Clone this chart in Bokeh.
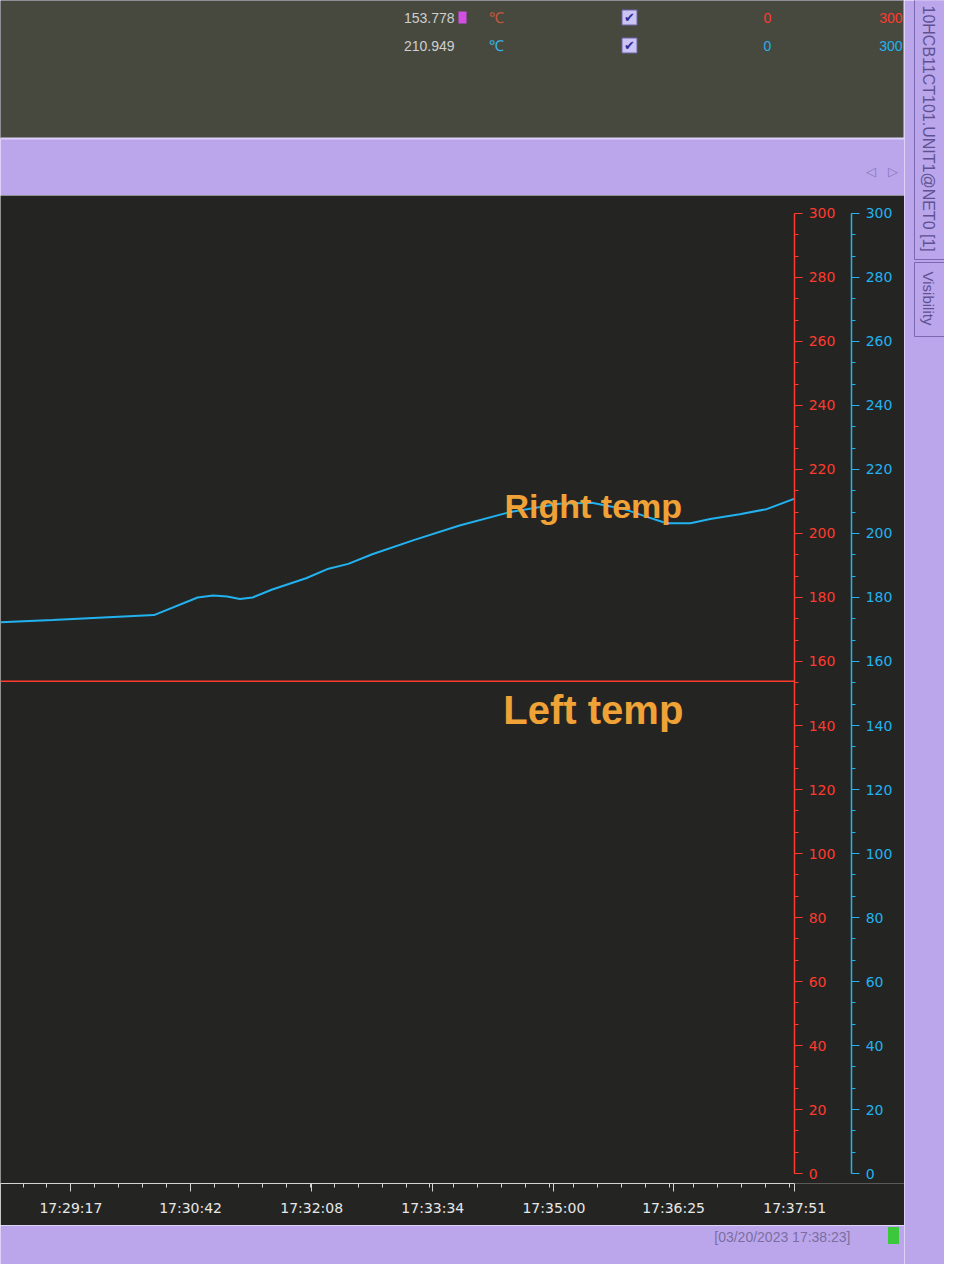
import pandas as pd
from bokeh.plotting import figure
from bokeh.models import Range1d, LinearAxis, FixedTicker, DatetimeTickFormatter, Label, ColumnDataSource
from bokeh.layouts import column, row
from bokeh.embed import file_html
from bokeh.resources import INLINE
from math import pi

day = "2023-03-20 "

# trend values
right_times = ["17:28:27", "17:29:04", "17:30:16", "17:30:47", "17:30:58", "17:31:08",
               "17:31:17", "17:31:26", "17:31:40", "17:32:04", "17:32:20", "17:32:34",
               "17:32:51", "17:33:21", "17:33:53", "17:34:28", "17:35:04", "17:35:27",
               "17:35:50", "17:36:04", "17:36:20", "17:36:37", "17:36:51", "17:37:12",
               "17:37:31", "17:37:51"]
right_temp = [172.3, 173.0, 174.5, 180.0, 180.6, 180.3, 179.5, 180.0, 182.5, 186.0,
              189.0, 190.5, 193.5, 198.0, 202.5, 206.6, 209.3, 209.6, 207.6, 205.5,
              203.2, 203.2, 204.5, 206.0, 207.6, 210.9]
left_times = ["17:28:27", "17:37:51"]
left_temp = [153.8, 153.8]

x_tick_labels = ["17:29:17", "17:30:42", "17:32:08", "17:33:34", "17:35:00", "17:36:25", "17:37:51"]
x_start, x_last = "17:28:27", "17:37:51"
x_frame_end = "17:39:09"      # the frame runs on under the two scales
blue_scale_at = "17:38:31.5"  # where the second (blue) scale sits
y_lo, y_hi = 0, 300
y_view = (-3.1, 305.6)        # dark area around the 0..300 scales

readouts = ["153.778", "210.949"]
lows = ["0", "0"]
highs = ["300", "300"]

RED = "#ff3a2e"
BLUE = "#22b2f0"
DARK = "#242523"
PURPLE = "#bba6ec"
ORANGE = "#f0a236"
TAB = "#5e5292"


def ms(t):
    return pd.Timestamp(day + t).value / 1e6


right_src = ColumnDataSource(data={"t": [ms(t) for t in right_times], "v": right_temp})
left_src = ColumnDataSource(data={"t": [ms(t) for t in left_times], "v": left_temp})

# ---- main trend chart
p = figure(width=904, height=1030, x_axis_type="datetime", y_axis_location="right",
           x_range=Range1d(ms(x_start), ms(x_frame_end)), y_range=Range1d(*y_view),
           output_backend="svg", toolbar_location=None,
           min_border_left=0, min_border_right=0, min_border_top=0, min_border_bottom=42)
p.background_fill_color = DARK
p.border_fill_color = DARK
p.outline_line_color = None
p.title.visible = False
p.grid.grid_line_color = None

ticks = [ms(t) for t in x_tick_labels]
step = ticks[1] - ticks[0]
minor = [ticks[0] - step + i * step / 5 for i in range(5 * len(ticks) + 1)]
p.xaxis.ticker = FixedTicker(ticks=ticks, minor_ticks=minor)
fmt = "%H:%M:%S"
p.xaxis.formatter = DatetimeTickFormatter(seconds=fmt, minsec=fmt, minutes=fmt, hourmin=fmt, hours=fmt)
p.xaxis.bounds = (ms(x_start), ms(x_last))
p.xaxis.axis_line_color = "#d4d4d4"
p.xaxis.major_tick_line_color = "#d4d4d4"
p.xaxis.minor_tick_line_color = "#d4d4d4"
p.xaxis.major_tick_in = 0
p.xaxis.major_tick_out = 8
p.xaxis.minor_tick_in = 0
p.xaxis.minor_tick_out = 4
p.xaxis.major_label_text_color = "#e8e8e8"
p.xaxis.major_label_text_font = "DejaVu Sans"
p.xaxis.major_label_text_font_size = "14px"
p.xaxis.major_label_standoff = 8

p.extra_y_ranges = {"blue": Range1d(*y_view)}
blue_axis = LinearAxis(y_range_name="blue")
p.add_layout(blue_axis, "right")
p.yaxis[0].fixed_location = ms(x_last)
blue_axis.fixed_location = ms(blue_scale_at)

y_ticker = FixedTicker(ticks=list(range(0, 301, 20)), minor_ticks=[i * 20 / 3 for i in range(46)])
for ax, col in [(p.yaxis[0], RED), (blue_axis, BLUE)]:
    ax.ticker = y_ticker
    ax.bounds = (y_lo, y_hi)
    ax.axis_line_color = col
    ax.axis_line_width = 1.5
    ax.major_tick_line_color = col
    ax.minor_tick_line_color = col
    ax.major_tick_in = 0
    ax.major_tick_out = 8
    ax.minor_tick_in = 0
    ax.minor_tick_out = 4
    ax.major_label_text_color = col
    ax.major_label_text_font = "DejaVu Sans"
    ax.major_label_text_font_size = "14px"
    ax.major_label_standoff = 6

p.line(x="t", y="v", source=left_src, color=RED, line_width=1.5)
p.line(x="t", y="v", source=right_src, color=BLUE, line_width=2, y_range_name="blue")

p.add_layout(Label(x=ms("17:35:28"), y=208.5, text="Right temp", text_color=ORANGE,
                   text_font="Liberation Sans", text_font_style="bold", text_font_size="34px",
                   text_align="center", text_baseline="middle"))
p.add_layout(Label(x=ms("17:35:28"), y=145, text="Left temp", text_color=ORANGE,
                   text_font="Liberation Sans", text_font_style="bold", text_font_size="40px",
                   text_align="center", text_baseline="middle"))


def panel(w, h):
    f = figure(width=w, height=h, x_range=Range1d(0, w), y_range=Range1d(h, 0),
               output_backend="svg", toolbar_location=None, min_border=0)
    f.axis.visible = False
    f.grid.grid_line_color = None
    f.outline_line_color = None
    f.title.visible = False
    f.background_fill_color = PURPLE
    f.border_fill_color = PURPLE
    return f


# ---- top readout panel
top = panel(904, 195)
top.quad(left=[-2], right=[904], top=[-4], bottom=[138], fill_color="#47493f", line_color="#ddd0fa", line_width=2)
rows_y = [17, 45]
top.text(x=[454, 454], y=rows_y, text=readouts, text_color="#cfcfcf", text_font_size="14px",
         text_align="right", text_baseline="middle")
top.rect(x=[462], y=[17], width=8, height=12, fill_color="#d24fe2", line_color=None)
top.text(x=[496, 496], y=rows_y, text=["℃", "℃"], text_color=["#c9583e", "#3ab2e6"],
         text_font_size="15px", text_align="center", text_baseline="middle")
top.rect(x=[629, 629], y=rows_y, width=15, height=15, fill_color="#cbc4f4", line_color="#6a64a8")
top.text(x=[629, 629], y=rows_y, text=["✔", "✔"], text_color="#2b2f9c", text_font_size="13px",
         text_align="center", text_baseline="middle")
top.text(x=[767, 767], y=rows_y, text=lows, text_color=[RED, BLUE], text_font_size="14px",
         text_align="center", text_baseline="middle")
top.text(x=[902, 902], y=rows_y, text=highs, text_color=[RED, BLUE], text_font_size="14px",
         text_align="right", text_baseline="middle")
top.text(x=[870, 892], y=[171, 171], text=["◁", "▷"], text_color="#8677b8", text_font_size="13px",
         text_align="center", text_baseline="middle")

# ---- status bar
bottom = panel(904, 39)
bottom.text(x=[850], y=[11], text=["[03/20/2023 17:38:23]"], text_color="#7a6ea0",
            text_font_size="14px", text_align="right", text_baseline="middle")
bottom.rect(x=[893], y=[10], width=11, height=17, fill_color="#3cc83c", line_color=None)

# ---- side tabs
side = panel(40, 1264)
side.quad(left=[10], right=[50], top=[-10], bottom=[259], fill_color=PURPLE, line_color="#7a68b0")
side.quad(left=[10], right=[50], top=[262], bottom=[336], fill_color=PURPLE, line_color="#7a68b0")
side.text(x=[24], y=[5], text=["10HCB11CT101.UNIT1@NET0 [1]"], angle=-pi / 2, text_color=TAB,
          text_font_size="16px", text_align="left", text_baseline="middle")
side.text(x=[24], y=[298], text=["Visibility"], angle=-pi / 2, text_color=TAB,
          text_font_size="15px", text_align="center", text_baseline="middle")

layout = row(column(top, p, bottom, spacing=0), side, spacing=0)
open("out.html", "w").write(file_html(layout, INLINE))
